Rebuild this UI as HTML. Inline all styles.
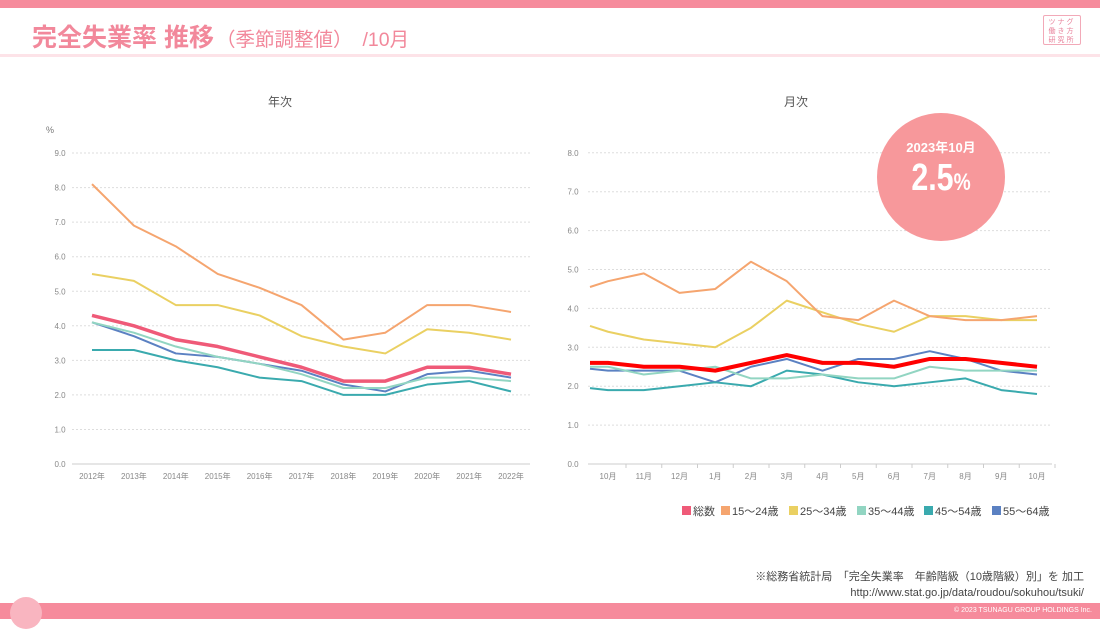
<!DOCTYPE html>
<html><head><meta charset="utf-8"><style>
body{margin:0;width:1100px;height:619px;overflow:hidden;background:#fff;font-family:"Liberation Sans","Noto Sans CJK JP",sans-serif;position:relative}
.a{position:absolute}
</style></head><body>
<div class="a" style="left:0;top:0;width:1100px;height:8px;background:#f68b9c"></div>
<div class="a" style="left:32px;top:18px;font-size:25px;font-weight:bold;color:#f2889b;white-space:nowrap">完全失業率 推移<span style="font-size:19.5px;font-weight:normal;margin-left:2px">（季節調整値）</span><span style="font-size:19.5px;font-weight:normal;margin-left:10px">/10月</span></div>
<div class="a" style="left:0;top:54px;width:1100px;height:3px;background:#fde3e8"></div>
<div class="a" style="left:1043px;top:15px;width:38px;height:30px;border:1px solid #f2a9b8;border-radius:2px;font-size:7px;color:#e8809a;line-height:9px;text-align:center;padding-top:2px;box-sizing:border-box;letter-spacing:2px">ツナグ<br>働き方<br>研究所</div>
<div class="a" style="left:0;top:603px;width:1100px;height:16px;background:#f68b9c"></div>
<div class="a" style="left:10px;top:597px;width:32px;height:32px;border-radius:50%;background:#f9b5c0"></div>
<div class="a" style="right:8px;top:607px;font-size:7px;color:#fff">© 2023 TSUNAGU GROUP HOLDINGS Inc.</div>
<div class="a" style="right:16px;top:569px;font-size:11px;color:#444;text-align:right;line-height:16px;white-space:nowrap">※総務省統計局　「完全失業率　年齢階級（10歳階級）別」を 加工<br>http://www.stat.go.jp/data/roudou/sokuhou/tsuki/</div>
<svg id="s" class="a" style="left:0;top:0" width="1100" height="619" font-family="Liberation Sans, Noto Sans CJK JP, sans-serif"></svg>
<div class="a" style="left:877px;top:113px;width:128px;height:128px;border-radius:50%;background:#f7989b;color:#fff;text-align:center">
<div style="margin-top:24px;font-size:13px;font-weight:bold">2023年10月</div>
<div style="font-size:38px;font-weight:bold;line-height:40px;margin-top:2px;transform:scaleX(.8)">2.5<span style="font-size:24px">%</span></div></div>
<script>
var s=document.getElementById('s'),h='';
var C=['#ef5a78','#f5a56f','#ead062','#92d5c2','#3aaaae','#5b81c2'];
function L(x1,y1,x2,y2,c,d){h+='<line x1="'+x1+'" y1="'+y1+'" x2="'+x2+'" y2="'+y2+'" stroke="'+c+'" stroke-width="1"'+(d?' stroke-dasharray="2,2"':'')+'/>';}
function T(x,y,t,sz,a,c){h+='<text x="'+x+'" y="'+y+'" font-size="'+sz+'" fill="'+(c||'#888')+'" text-anchor="'+(a||'middle')+'">'+t+'</text>';}
function P(xs,vs,y0,k,c,w){h+='<polyline fill="none" stroke="'+c+'" stroke-width="'+w+'" stroke-linejoin="round" points="'+vs.map(function(v,i){return xs[i]+','+(y0-v*k)}).join(' ')+'"/>';}
T(280,106,'年次',12,'middle','#555');T(50,133,'%',9,'middle','#777');
var k1=34.55;
for(var i=0;i<=9;i++){var y=464-i*k1;T(60,y+3,i+'.0',8);L(72,y,530,y,'#ddd',i>0);}
L(72,464,530,464,'#ccc');
var xl=[];for(i=0;i<11;i++){xl.push(92+i*41.9);T(92+i*41.9,479,(2012+i)+'年',8);}
var D1=[[4.3,4.0,3.6,3.4,3.1,2.8,2.4,2.4,2.8,2.8,2.6],[8.1,6.9,6.3,5.5,5.1,4.6,3.6,3.8,4.6,4.6,4.4],[5.5,5.3,4.6,4.6,4.3,3.7,3.4,3.2,3.9,3.8,3.6],[4.1,3.8,3.4,3.1,2.9,2.6,2.2,2.2,2.5,2.5,2.4],[3.3,3.3,3.0,2.8,2.5,2.4,2.0,2.0,2.3,2.4,2.1],[4.1,3.7,3.2,3.1,2.9,2.7,2.3,2.1,2.6,2.7,2.5]];
for(i=5;i>=1;i--)P(xl,D1[i],464,k1,C[i],2);P(xl,D1[0],464,k1,C[0],3.5);
T(796,106,'月次',12,'middle','#555');
var k2=38.9;
for(i=0;i<=8;i++){var y=464-i*k2;T(573,y+3,i+'.0',8);L(588,y,1052,y,'#ddd',i>0);}
L(588,464,1052,464,'#ccc');
var ml=['10月','11月','12月','1月','2月','3月','4月','5月','6月','7月','8月','9月','10月'];
var xr=[590];for(i=0;i<13;i++){xr.push(608+i*35.75);T(608+i*35.75,479,ml[i],8);L(626+i*35.75,464,626+i*35.75,468,'#ccc');}
var D2=[[2.6,2.6,2.5,2.5,2.4,2.6,2.8,2.6,2.6,2.5,2.7,2.7,2.6,2.5],[4.55,4.7,4.9,4.4,4.5,5.2,4.7,3.8,3.7,4.2,3.8,3.7,3.7,3.8],[3.55,3.4,3.2,3.1,3.0,3.5,4.2,3.9,3.6,3.4,3.8,3.8,3.7,3.7],[2.5,2.5,2.3,2.4,2.5,2.2,2.2,2.3,2.2,2.2,2.5,2.4,2.4,2.4],[1.95,1.9,1.9,2.0,2.1,2.0,2.4,2.3,2.1,2.0,2.1,2.2,1.9,1.8],[2.45,2.4,2.4,2.4,2.1,2.5,2.7,2.4,2.7,2.7,2.9,2.7,2.4,2.3]];
for(i=5;i>=1;i--)P(xr,D2[i],464,k2,C[i],2);P(xr,D2[0],464,k2,'#f00',4);
var lg=['総数','15～24歳','25～34歳','35～44歳','45～54歳','55～64歳'],lx=[682,721,789,857,924,992];
for(i=0;i<6;i++){h+='<rect x="'+lx[i]+'" y="506" width="9" height="9" fill="'+C[i]+'"/>';T(lx[i]+11,515,lg[i],11,'start','#444');}
s.innerHTML=h;
</script>
</body></html>
